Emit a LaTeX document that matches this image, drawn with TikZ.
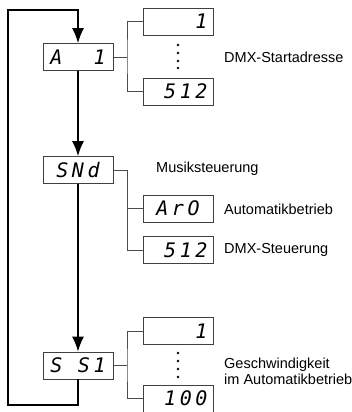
\documentclass[tikz,border=0pt]{standalone}
\usepackage{fontspec}
\setmainfont{Liberation Sans}
\newfontfamily\segfont{DejaVu Sans Mono}[LetterSpace=18]
\usetikzlibrary{arrows.meta}

\begin{document}
\begin{tikzpicture}[x=1pt,y=-1pt]
\tikzset{disp/.style={draw=black!75,line width=0.8pt,minimum width=70pt,minimum height=27pt,inner sep=0pt,font=\segfont\itshape\fontsize{20}{20}\selectfont}}
\tikzset{lbl/.style={anchor=west,inner sep=0pt,font=\fontsize{14.5}{16}\selectfont,align=left}}
\tikzset{flow/.style={line width=1.4pt,-{Latex[length=15pt,width=12pt]}}}
\tikzset{fork/.style={draw=black!70,line width=0.8pt}}
\clip (0,0) rectangle (352,412);
% main menu
\node[disp] (adr) at (78,57) {A\ \ 1};
\node[disp] (snd) at (78,170) {SNd\ };
\node[disp] (ss1) at (78,365.5) {S S1};
% sub menus
\node[disp] (adr1) at (178,21.5) {\ \ \ 1};
\node[disp] (adr512) at (178,91.5) {\ 512};
\node[disp] (aro) at (178,208.5) {ArO\ };
\node[disp] (dmx512) at (178,250) {\ 512};
\node[disp] (spd1) at (178,331) {\ \ \ 1};
\node[disp] (spd100) at (178,398.5) {\ 100};
% texts
\node[lbl] (tadr) at (224,57) {DMX-Startadresse};
\node[lbl] (tmus) at (156,169) {Musiksteuerung};
\node[lbl] (tauto) at (224,209) {Automatikbetrieb};
\node[lbl] (tdmx) at (224,250) {DMX-Steuerung};
\node[lbl] (tspd) at (224,371) {Geschwindigkeit\\im Automatikbetrieb};
% loop
\coordinate (lb) at (8,405);
\coordinate (lt) at (8,10);
\draw[flow] (adr.south) -- (snd.north);
\draw[flow] (snd.south) -- (ss1.north);
\draw[flow] (ss1.south) |- (lb) -- (lt) -| (adr.north);
% branches
\coordinate (f1) at (127,57);
\coordinate (f2) at (127,170);
\coordinate (f3) at (127,365.5);
\draw[fork] (adr.east) -- (f1) (adr1.west) -| (f1) |- (adr512.west);
\draw[fork] (snd.east) -- (f2) |- (dmx512.west) (f2) |- (aro.west);
\draw[fork] (ss1.east) -- (f3) (spd1.west) -| (f3) |- (spd100.west);
\foreach \y in {45,53,61,68} \fill (178,\y) circle (1.3);
\foreach \y in {353,361,369,377} \fill (178,\y) circle (1.3);
\end{tikzpicture}
\end{document}
